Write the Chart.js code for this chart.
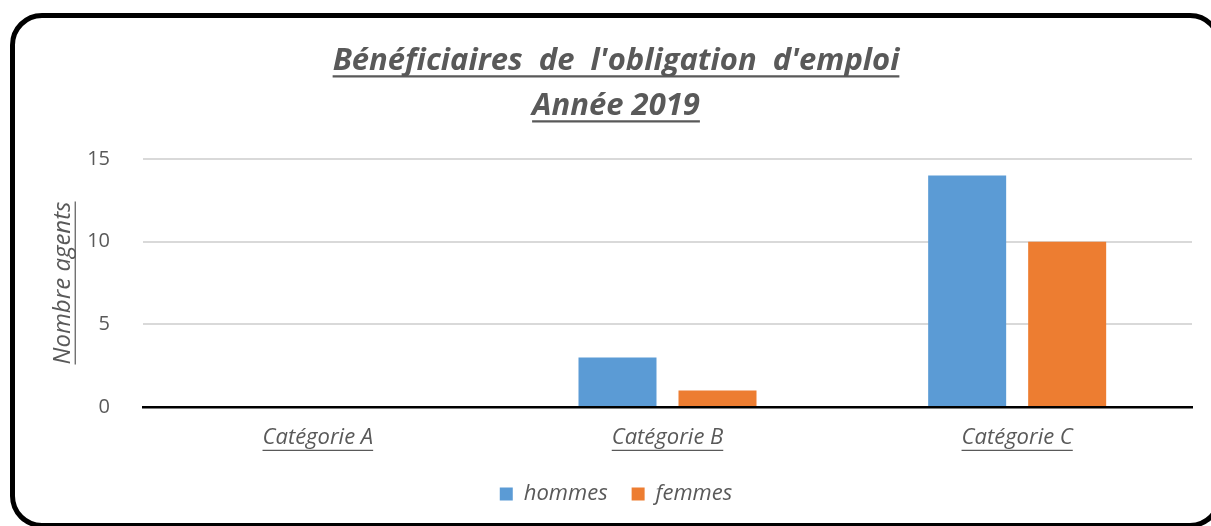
<!DOCTYPE html>
<html>
<head>
<meta charset="utf-8">
<script src="https://cdn.jsdelivr.net/npm/chart.js@4.4.1/dist/chart.umd.min.js"></script>
<style>
    html, body { margin: 0; padding: 0; background: #fff; overflow: hidden; }
    #wrap { position: relative; width: 1211px; height: 526px; overflow: hidden; }
    #frame {
        position: absolute; left: 10px; top: 13px; width: 1212px; height: 515px;
        box-sizing: border-box; border: 5px solid #000; border-radius: 32px;
        pointer-events: none;
    }
    #chart { position: absolute; left: 10px; top: 0; }
</style>
</head>
<body>
<div id="wrap">
    <canvas id="chart" width="1212" height="526"></canvas>
    <div id="frame"></div>
</div>
<script>
// Bénéficiaires de l'obligation d'emploi - 2019
const categories = ['Catégorie A', 'Catégorie B', 'Catégorie C'];
const hommes = [0, 3, 14];
const femmes = [0, 1, 10];
const yTicks = [0, 5, 10, 15];
const titleLines = ["Bénéficiaires  de  l'obligation  d'emploi", 'Année 2019'];

const grey = '#595959';
const fontFamily = '"Open Sans", Lato, sans-serif';

// draws underlines under title, x labels and y axis title (canvas has no text-decoration)
const underlinePlugin = {
    id: 'underline',
    afterDraw(chart) {
        const ctx = chart.ctx;
        const baselineOffset = (font, baseline) => {
            ctx.save();
            ctx.font = font.string;
            ctx.textBaseline = baseline;
            const d = ctx.measureText('x').actualBoundingBoxDescent;
            ctx.restore();
            return d;
        };
        const line = (x1, y1, x2, y2, w) => {
            ctx.save();
            ctx.strokeStyle = grey;
            ctx.lineWidth = w;
            ctx.beginPath();
            ctx.moveTo(x1, y1);
            ctx.lineTo(x2, y2);
            ctx.stroke();
            ctx.restore();
        };

        // title
        const tb = chart.titleBlock;
        const tOpts = chart.options.plugins.title;
        const tFont = Chart.helpers.toFont(tOpts.font);
        const tPad = Chart.helpers.toPadding(tOpts.padding);
        const cx = (tb.left + tb.right) / 2;
        ctx.font = tFont.string;
        titleLines.forEach((t, i) => {
            const w = ctx.measureText(t).width;
            const y = tb.top + tPad.top + tFont.lineHeight * (i + 0.5) + baselineOffset(tFont, 'middle') + 6;
            line(cx - w / 2, y, cx + w / 2, y, 2.2);
        });

        // x labels
        const xs = chart.scales.x;
        xs.getLabelItems().forEach(item => {
            ctx.font = item.font.string;
            const w = ctx.measureText(item.label).width;
            const [x, y0] = item.options.translation;
            const y = y0 + item.textOffset + baselineOffset(item.font, item.options.textBaseline) + 6;
            line(x - w / 2, y, x + w / 2, y, 1.2);
        });

        // y axis title (rotated)
        const ys = chart.scales.y;
        const yt = ys.options.title;
        const yFont = Chart.helpers.toFont(yt.font);
        const yPad = Chart.helpers.toPadding(yt.padding);
        ctx.font = yFont.string;
        const yw = ctx.measureText(yt.text).width;
        const ux = ys.left + yPad.top + yFont.lineHeight / 2 + baselineOffset(yFont, 'middle') + 5;
        const cy = (ys.top + ys.bottom) / 2;
        line(ux, cy - yw / 2, ux, cy + yw / 2, 1.2);
    }
};

const ctx = document.getElementById('chart').getContext('2d');
new Chart(ctx, {
    type: 'bar',
    data: {
        labels: categories,
        datasets: [{
            label: 'hommes',
            data: hommes,
            backgroundColor: '#5b9bd5',
            categoryPercentage: 0.572,
            barPercentage: 0.78
        }, {
            label: 'femmes',
            data: femmes,
            backgroundColor: '#ed7d31',
            categoryPercentage: 0.572,
            barPercentage: 0.78
        }]
    },
    options: {
        responsive: false,
        animation: false,
        layout: { padding: { top: 17, left: 30, right: 30, bottom: 11 } },
        plugins: {
            title: {
                display: true,
                text: titleLines,
                color: grey,
                font: { family: fontFamily, size: 31, weight: 'bold', style: 'italic', lineHeight: '45px' },
                padding: { top: 22, bottom: 30 }
            },
            legend: {
                position: 'bottom',
                labels: {
                    color: grey,
                    boxWidth: 13,
                    boxHeight: 13,
                    padding: 24,
                    font: { family: fontFamily, size: 22, style: 'italic' }
                }
            },
            tooltip: { enabled: false }
        },
        scales: {
            x: {
                grid: { display: false, drawTicks: false },
                border: { display: true, color: '#000', width: 2.5 },
                ticks: {
                    color: grey,
                    padding: 18,
                    font: { family: fontFamily, size: 22, style: 'italic' }
                },
                afterFit: (scale) => { scale.height = 52; }
            },
            y: {
                min: 0,
                max: 15,
                afterBuildTicks: (scale) => { scale.ticks = yTicks.map(v => ({ value: v })); },
                grid: {
                    drawTicks: false,
                    lineWidth: 2,
                    color: (c) => c.tick && c.tick.value === 0 ? 'rgba(0,0,0,0)' : '#d9d9d9'
                },
                border: { display: false },
                ticks: {
                    color: grey,
                    padding: 33,
                    font: { family: fontFamily, size: 20 }
                },
                title: {
                    display: true,
                    text: 'Nombre agents',
                    color: grey,
                    padding: { top: 9, bottom: 0 },
                    font: { family: fontFamily, size: 24, style: 'italic' }
                },
                afterFit: (scale) => { scale.width = 103; }
            }
        }
    },
    plugins: [underlinePlugin]
});
</script>
</body>
</html>
